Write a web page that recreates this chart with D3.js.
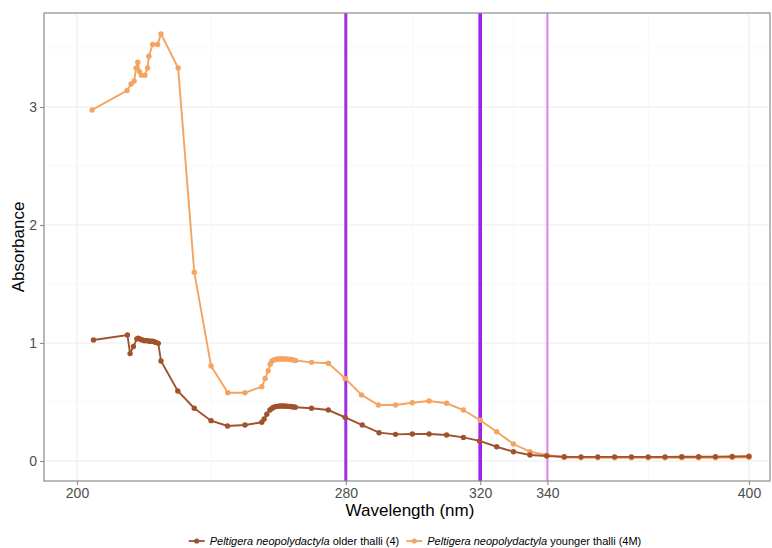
<!DOCTYPE html>
<html><head><meta charset="utf-8">
<script src="https://cdn.jsdelivr.net/npm/d3@7"></script>
<style>body{margin:0;background:#fff;} svg{display:block;font-family:"Liberation Sans",Arial,sans-serif;}</style>
</head><body>
<svg id="c" width="772" height="548"></svg>
<script>
// Data
const olderWl = [204.9,215.0,215.8,216.8,217.8,218.2,218.6,219.0,219.5,220.0,220.5,221.0,221.5,222.0,222.5,223.0,223.5,224.2,225.0,230.0,234.9,239.9,244.8,250.0,255.0,255.7,256.5,257.4,258.0,258.5,259.0,259.5,260.0,260.5,261.0,261.5,262.0,262.5,263.0,263.5,264.0,264.5,265.0,269.8,274.8,279.8,284.9,289.9,294.8,299.8,304.8,310.0,315.0,319.8,324.9,329.9,334.8,339.8,345,350,355,360,365,370,375,380,385,390,395,400];
const olderAbs = [1.025,1.068,0.91,0.97,1.035,1.04,1.035,1.03,1.025,1.02,1.02,1.02,1.015,1.015,1.015,1.01,1.005,0.997,0.847,0.593,0.447,0.342,0.297,0.305,0.328,0.356,0.396,0.432,0.445,0.455,0.46,0.463,0.465,0.466,0.466,0.466,0.465,0.464,0.463,0.462,0.46,0.458,0.455,0.447,0.432,0.37,0.305,0.24,0.226,0.229,0.229,0.22,0.2,0.17,0.121,0.079,0.051,0.042,0.036,0.035,0.035,0.035,0.035,0.035,0.035,0.036,0.036,0.037,0.038,0.04];
const youngerWl = [204.5,214.9,216.1,217.0,217.6,218.1,218.6,219.2,220.2,221.0,221.4,222.5,224.0,225.0,230.1,234.9,239.9,244.9,250.0,255.0,256.0,256.9,257.5,258.0,258.5,259.0,259.5,260.0,260.5,261.0,261.5,262.0,262.5,263.0,263.5,264.0,264.5,265.0,269.8,274.8,279.8,284.7,289.7,294.8,299.8,304.8,310.0,315.0,320.0,324.9,329.9,334.8,339.8,345,350,355,360,365,370,375,380,385,390,395,400];
const youngerAbs = [2.975,3.14,3.195,3.22,3.33,3.38,3.30,3.27,3.27,3.33,3.43,3.53,3.53,3.62,3.33,1.60,0.805,0.578,0.578,0.63,0.70,0.765,0.82,0.845,0.855,0.86,0.862,0.864,0.865,0.865,0.865,0.864,0.863,0.862,0.86,0.858,0.855,0.852,0.836,0.828,0.70,0.56,0.475,0.475,0.494,0.508,0.489,0.432,0.345,0.248,0.144,0.079,0.051,0.03,0.028,0.027,0.027,0.027,0.027,0.027,0.027,0.028,0.028,0.029,0.03,0.031];
const xTicks = [200,280,320,340,400];
const xMinor = [240,300,330,370];
const yTicks = [0,1,2,3];
const yMinor = [0.5,1.5,2.5,3.5];
const vLines = [280,320,340];
const vColors = ["#9b30e6","#a020f0","#e080f0"];
const vWidths = [3,3.6,2];
const seriesNames = ["older thalli (4)","younger thalli (4M)"];
const seriesColors = ["#a0522d","#f4a460"];

const svg = d3.select("#c");
const L=44,R=770,T=13,B=481;
const x = d3.scaleLinear().domain([190.18,406.25]).range([L,R]);
const y = d3.scaleLinear().domain([-0.1695,3.7966]).range([B,T]);

// grid
const g = svg.append("g");
g.selectAll(".ym").data(yMinor).join("line").attr("x1",L).attr("x2",R).attr("y1",d=>y(d)).attr("y2",d=>y(d)).attr("stroke","#f3f3f3").attr("stroke-width",0.7);
g.selectAll(".xm").data(xMinor).join("line").attr("y1",T).attr("y2",B).attr("x1",d=>x(d)).attr("x2",d=>x(d)).attr("stroke","#f3f3f3").attr("stroke-width",0.7);
g.selectAll(".yM").data(yTicks).join("line").attr("x1",L).attr("x2",R).attr("y1",d=>y(d)).attr("y2",d=>y(d)).attr("stroke","#ebebeb").attr("stroke-width",1);
g.selectAll(".xM").data(xTicks).join("line").attr("y1",T).attr("y2",B).attr("x1",d=>x(d)).attr("x2",d=>x(d)).attr("stroke","#ebebeb").attr("stroke-width",1);

// vertical reference lines
vLines.forEach((v,i)=>{
  svg.append("line").attr("x1",x(v)).attr("x2",x(v)).attr("y1",T).attr("y2",B).attr("stroke",vColors[i]).attr("stroke-width",vWidths[i]);
});

// series
const series = [
  {wl:youngerWl, ab:youngerAbs, c:seriesColors[1]},
  {wl:olderWl, ab:olderAbs, c:seriesColors[0]}
];
const line = d3.line().x(d=>x(d[0])).y(d=>y(d[1]));
series.forEach(s=>{
  const pts = s.wl.map((w,i)=>[w,s.ab[i]]);
  svg.append("path").datum(pts).attr("d",line).attr("fill","none").attr("stroke",s.c).attr("stroke-width",1.9);
  svg.append("g").selectAll("circle").data(pts).join("circle").attr("cx",d=>x(d[0])).attr("cy",d=>y(d[1])).attr("r",2.7).attr("fill",s.c);
});

// border
svg.append("rect").attr("x",L).attr("y",T).attr("width",R-L).attr("height",B-T).attr("fill","none").attr("stroke","#8c8c8c").attr("stroke-width",1.2);

// axes
const xa = svg.append("g").attr("transform",`translate(0,${B})`).call(d3.axisBottom(x).tickValues(xTicks).tickSize(4).tickPadding(3).tickFormat(d3.format("d")));
const ya = svg.append("g").attr("transform",`translate(${L},0)`).call(d3.axisLeft(y).tickValues(yTicks).tickSize(4).tickPadding(3).tickFormat(d3.format("d")));
[xa,ya].forEach(a=>{
  a.select(".domain").remove();
  a.selectAll(".tick line").attr("stroke","#8c8c8c").attr("stroke-width",1.1);
  a.selectAll(".tick text").attr("fill","#4d4d4d").style("font-size","14px").style("font-family","'Liberation Sans',Arial,sans-serif");
});

svg.append("text").attr("x",(L+R)/2+3).attr("y",516).attr("text-anchor","middle").style("font-size","17px").attr("fill","#000").text("Wavelength (nm)");
svg.append("text").attr("transform",`translate(24,${(T+B)/2}) rotate(-90)`).attr("text-anchor","middle").style("font-size","17px").attr("fill","#000").text("Absorbance");

// legend
const leg = svg.append("g");
const items = [0,1];
let cx = 170;
const ly = 541;
items.forEach(i=>{
  const gi = leg.append("g");
  gi.append("line").attr("x1",cx).attr("x2",cx+16).attr("y1",ly).attr("y2",ly).attr("stroke",seriesColors[i]).attr("stroke-width",1.8);
  gi.append("circle").attr("cx",cx+8).attr("cy",ly).attr("r",2.6).attr("fill",seriesColors[i]);
  const t = gi.append("text").attr("x",cx+21).attr("y",ly+4).style("font-size","11px").attr("fill","#000");
  t.append("tspan").style("font-style","italic").text("Peltigera neopolydactyla");
  t.append("tspan").text(" "+seriesNames[i]);
  cx += 21 + t.node().getComputedTextLength() + 7;
});
// center legend
const bb = leg.node().getBBox();
leg.attr("transform",`translate(${415 - (bb.x + bb.width/2)},0)`);
</script>
</body></html>
